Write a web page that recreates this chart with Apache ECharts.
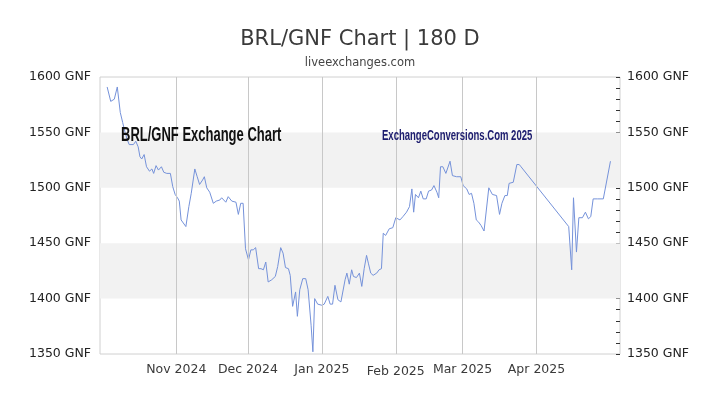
<!DOCTYPE html>
<html>
<head>
<meta charset="utf-8">
<script src="https://cdn.jsdelivr.net/npm/echarts@6/dist/echarts.min.js"></script>
<style>html,body{margin:0;padding:0;background:#fff;}#chart{width:720px;height:405px;}</style>
</head>
<body>
<div id="chart"></div>
<script>
// ---- data ----
var dates = [
'2024-10-03 00:00','2024-10-04 12:00','2024-10-06 00:00','2024-10-07 06:00','2024-10-08 12:00','2024-10-09 12:00',
'2024-10-10 12:00','2024-10-11 12:00','2024-10-12 06:00','2024-10-14 00:00','2024-10-15 00:00','2024-10-16 00:00',
'2024-10-16 18:00','2024-10-17 12:00','2024-10-18 12:00','2024-10-19 12:00','2024-10-20 18:00','2024-10-21 18:00',
'2024-10-22 12:00','2024-10-23 12:00','2024-10-24 12:00','2024-10-25 06:00','2024-10-25 18:00','2024-10-26 18:00',
'2024-10-28 00:00','2024-10-29 12:00','2024-10-30 12:00','2024-10-31 12:00','2024-11-01 12:00','2024-11-02 06:00',
'2024-11-03 00:00','2024-11-03 18:00','2024-11-05 00:00','2024-11-06 06:00','2024-11-07 06:00','2024-11-08 18:00',
'2024-11-09 18:00','2024-11-10 18:00','2024-11-12 00:00','2024-11-12 18:00','2024-11-13 18:00','2024-11-15 00:00',
'2024-11-16 12:00','2024-11-17 18:00','2024-11-19 06:00','2024-11-20 00:00','2024-11-21 18:00','2024-11-22 18:00',
'2024-11-24 06:00','2024-11-26 00:00','2024-11-27 00:00','2024-11-28 00:00','2024-11-29 00:00','2024-11-30 00:00',
'2024-12-01 06:00','2024-12-02 06:00','2024-12-03 06:00','2024-12-04 06:00','2024-12-05 12:00','2024-12-06 12:00',
'2024-12-07 12:00','2024-12-08 12:00','2024-12-09 12:00','2024-12-11 00:00','2024-12-12 12:00','2024-12-13 12:00',
'2024-12-14 18:00','2024-12-15 18:00','2024-12-16 18:00','2024-12-18 00:00','2024-12-18 18:00','2024-12-19 18:00',
'2024-12-21 00:00','2024-12-21 18:00','2024-12-22 18:00','2024-12-24 00:00','2024-12-25 06:00','2024-12-26 06:00',
'2024-12-27 12:00','2024-12-28 06:00','2024-12-29 00:00','2024-12-30 06:00','2025-01-01 00:00','2025-01-02 00:00',
'2025-01-03 12:00','2025-01-04 12:00','2025-01-05 12:00','2025-01-06 12:00','2025-01-07 18:00','2025-01-09 00:00',
'2025-01-09 18:00','2025-01-10 18:00','2025-01-11 12:00','2025-01-12 12:00','2025-01-13 12:00','2025-01-14 06:00',
'2025-01-15 12:00','2025-01-16 18:00','2025-01-17 18:00','2025-01-18 18:00','2025-01-19 18:00','2025-01-20 12:00',
'2025-01-21 12:00','2025-01-22 12:00','2025-01-24 00:00','2025-01-25 00:00','2025-01-26 00:00','2025-01-26 18:00',
'2025-01-27 18:00','2025-01-29 06:00','2025-01-30 18:00','2025-02-01 00:00','2025-02-02 18:00','2025-02-04 00:00',
'2025-02-05 12:00','2025-02-06 18:00','2025-02-07 18:00','2025-02-08 12:00','2025-02-09 06:00','2025-02-10 12:00',
'2025-02-11 12:00','2025-02-12 12:00','2025-02-13 18:00','2025-02-14 18:00','2025-02-16 00:00','2025-02-17 00:00',
'2025-02-18 06:00','2025-02-19 00:00','2025-02-19 18:00','2025-02-20 18:00','2025-02-22 00:00','2025-02-23 18:00',
'2025-02-24 18:00','2025-02-26 12:00','2025-02-28 06:00','2025-03-01 06:00','2025-03-02 18:00','2025-03-03 18:00',
'2025-03-04 18:00','2025-03-05 18:00','2025-03-06 18:00','2025-03-07 18:00','2025-03-08 18:00','2025-03-10 00:00',
'2025-03-12 00:00','2025-03-13 12:00','2025-03-15 06:00','2025-03-16 12:00','2025-03-17 12:00','2025-03-18 18:00',
'2025-03-19 18:00','2025-03-20 12:00','2025-03-22 06:00','2025-03-23 18:00','2025-03-24 18:00','2025-03-25 12:00',
'2025-04-14 12:00','2025-04-15 18:00','2025-04-16 12:00','2025-04-17 18:00','2025-04-18 18:00','2025-04-20 06:00',
'2025-04-21 12:00','2025-04-22 18:00','2025-04-23 18:00','2025-04-24 18:00','2025-04-26 12:00','2025-04-29 00:00',
'2025-05-02 00:00'
];
var rates = [
1591,1578,1580,1591,1568,1559,
1550,1543,1539,1539,1542,1537,
1528,1526,1530,1519,1515,1517,
1513,1520,1516,1515,1519,1514,
1513,1513,1501,1494,1491,1488,
1471,1470,1465,1483,1495,1517,
1510,1503,1507,1510,1500,1496,
1486,1488,1489,1491,1487,1492,
1488,1487,1476,1486,1486,1445,
1435,1444,1444,1446,1427,1427,
1426,1433,1415,1417,1420,1429,
1446,1441,1428,1427,1421,1393,
1406,1384,1408,1418,1418,1408,
1376,1352,1400,1395,1394,1395,
1402,1395,1395,1412,1399,1397,
1396,1417,1423,1413,1426,1420,
1419,1423,1411,1427,1439,1432,
1423,1421,1423,1426,1427,1459,
1457,1463,1464,1473,1471,1474,
1478,1483,1499,1478,1494,1491,
1497,1490,1490,1497,1498,1502,
1496,1491,1519,1519,1513,1524,
1511,1510,1510,1502,1499,1494,
1495,1486,1471,1469,1466,1461,
1500,1494,1493,1476,1486,1493,
1493,1504,1505,1521,1521,1519,
1465,1426,1491,1442,1473,1473,
1478,1472,1474,1490,1490,1490,
1524
];
var monthTicks = ['2024-11-01','2024-12-01','2025-01-01','2025-02-01','2025-03-01','2025-04-01'];
var monthLabels = ['Nov 2024','Dec 2024','Jan 2025','Feb 2025','Mar 2025','Apr 2025'];
var yTicks = [1350, 1400, 1450, 1500, 1550, 1600];
var shadedBands = [[1400, 1450], [1500, 1550]];
var axisStart = '2024-09-30';
var axisEnd = '2025-05-06';
var titleText = 'BRL/GNF Chart | 180 D';
var subText = 'liveexchanges.com';
var innerTitle = 'BRL/GNF Exchange Chart';
var watermark = 'ExchangeConversions.Com 2025';

// ---- helpers ----
function localTime(s) {
  var p = s.split(/[- :]/).map(Number);
  return new Date(p[0], p[1] - 1, p[2], p[3] || 0, p[4] || 0).getTime();
}
var tickTimes = monthTicks.map(localTime);
var seriesData = dates.map(function (d, i) { return [localTime(d), rates[i]]; });
var labelFont = 'DejaVu Sans';
function gnf(v) { return v + ' GNF'; }

var chart = echarts.init(document.getElementById('chart'), null, {renderer: 'canvas'});
var yAxisCommon = {
  type: 'value', min: yTicks[0], max: yTicks[yTicks.length - 1], interval: 50,
  splitLine: {show: false},
  axisLine: {show: false}
};
chart.setOption({
  animation: false,
  backgroundColor: '#ffffff',
  title: [
    {text: titleText, left: 'center', top: 29, padding: 0,
     textStyle: {fontFamily: labelFont, fontSize: 21, fontWeight: 'normal', color: '#3a3a3a'}},
    {text: subText, left: 'center', top: 57, padding: 0,
     textStyle: {fontFamily: labelFont, fontSize: 11.5, fontWeight: 'normal', color: '#444'}}
  ],
  grid: {left: 100, right: 100, top: 77, bottom: 51, show: true, borderColor: '#d0d0d0', borderWidth: 1, backgroundColor: 'transparent'},
  xAxis: {
    type: 'value', min: localTime(axisStart), max: localTime(axisEnd), scale: true,
    axisLine: {show: false}, axisTick: {show: false}, splitLine: {show: false},
    axisLabel: {
      customValues: tickTimes,
      margin: 9,
      fontFamily: labelFont, fontSize: 12.5, color: '#3a3a3a',
      formatter: function (v) {
        var idx = tickTimes.indexOf(v);
        var t = idx >= 0 ? monthLabels[idx] : '';
        if (t.indexOf('Feb') === 0) return '{feb|' + t + '}';
        return t;
      },
      rich: {feb: {fontFamily: labelFont, fontSize: 12.5, color: '#3a3a3a', padding: [2, 0, 0, 0]}}
    }
  },
  yAxis: [
    Object.assign({}, yAxisCommon, {
      position: 'left',
      axisTick: {show: false},
      axisLabel: {margin: 9, fontFamily: labelFont, fontSize: 12.5, color: '#222', formatter: gnf}
    }),
    Object.assign({}, yAxisCommon, {
      position: 'right',
      axisTick: {show: true, inside: true, length: 4, lineStyle: {color: '#333', width: 1}},
      minorTick: {show: true, splitNumber: 5, length: 4, lineStyle: {color: '#333', width: 1}},
      axisLabel: {margin: 7, fontFamily: labelFont, fontSize: 12.5, color: '#222', formatter: gnf}
    })
  ],
  graphic: [
    {type: 'text', x: 121, y: 135, scaleX: 0.65, z: 10,
     style: {text: innerTitle, fontFamily: 'Liberation Sans', fontWeight: 'bold', fontSize: 20, fill: '#111', align: 'left', verticalAlign: 'middle'}},
    {type: 'text', x: 382, y: 136, scaleX: 0.68, z: 10,
     style: {text: watermark, fontFamily: 'Liberation Sans', fontWeight: 'bold', fontSize: 14, fill: '#1c1c6e', align: 'left', verticalAlign: 'middle'}}
  ],
  series: [{
    type: 'line',
    data: seriesData,
    showSymbol: false,
    symbol: 'none',
    lineStyle: {color: '#7592da', width: 1},
    itemStyle: {color: '#7592da'},
    z: 3,
    markArea: {
      silent: true,
      itemStyle: {color: '#f2f2f2'},
      data: shadedBands.map(function (b) { return [{yAxis: b[0]}, {yAxis: b[1]}]; })
    },
    markLine: {
      silent: true, symbol: 'none', label: {show: false},
      lineStyle: {color: '#c8c8c8', width: 1, type: 'solid'},
      data: tickTimes.map(function (t) { return {xAxis: t}; })
    }
  }]
});
</script>
</body>
</html>
